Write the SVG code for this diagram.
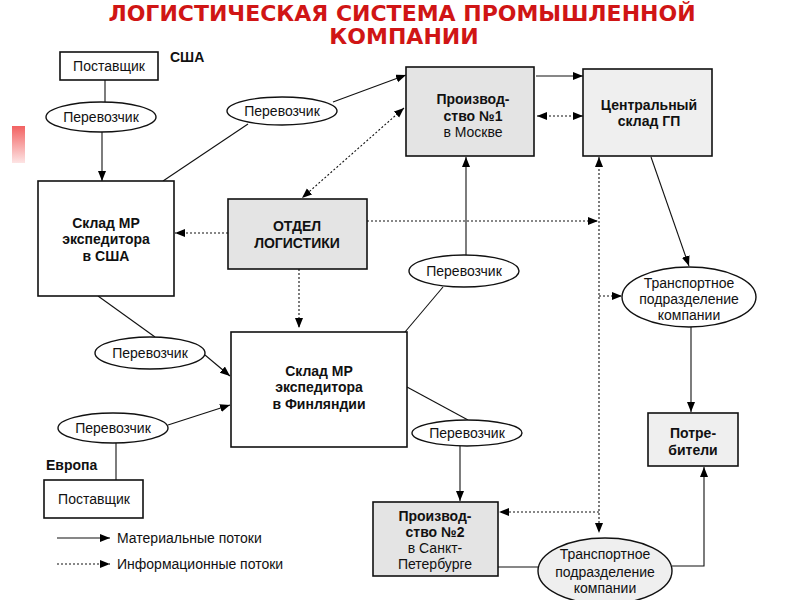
<svg xmlns="http://www.w3.org/2000/svg" width="800" height="600" viewBox="0 0 800 600">
<defs>
<marker id="ah" markerUnits="userSpaceOnUse" markerWidth="11" markerHeight="9" refX="10" refY="4" orient="auto-start-reverse">
<path d="M0,0 L10,4 L0,8 z" fill="#000"/>
</marker>
<linearGradient id="redbar" x1="0" y1="0" x2="0" y2="1">
<stop offset="0" stop-color="#f26262"/>
<stop offset="1" stop-color="#fde4e4"/>
</linearGradient>
</defs>
<style>
.title{font-family:"DejaVu Sans",sans-serif;font-weight:bold;font-size:22px;fill:#d01515;text-anchor:middle}
.t{font-family:"Liberation Sans",Arial,sans-serif;font-size:14px;fill:#111;text-anchor:middle}
.b{font-weight:bold}
.l{text-anchor:start}
.box{fill:#fff;stroke:#111;stroke-width:1.6}
.grey{fill:#e4e4e4;stroke:#111;stroke-width:1.6}
.lgrey{fill:#efefef;stroke:#111;stroke-width:1.6}
.ell{fill:#fff;stroke:#111;stroke-width:1.4}
.mat{fill:none;stroke:#111;stroke-width:1.1}
.info{fill:none;stroke:#111;stroke-width:1.1;stroke-dasharray:2,2}
</style>
<rect width="800" height="600" fill="#fff"/>
<rect x="12" y="126" width="13" height="37" fill="url(#redbar)"/>
<text class="title" x="402" y="21">ЛОГИСТИЧЕСКАЯ СИСТЕМА ПРОМЫШЛЕННОЙ</text>
<text class="title" x="404" y="44">КОМПАНИИ</text>

<g id="connectors">
<line class="mat" x1="105" y1="80" x2="105" y2="102"/>
<line class="mat" x1="102" y1="132" x2="102" y2="181" marker-end="url(#ah)"/>
<line class="mat" x1="163" y1="181" x2="248" y2="124"/>
<line class="mat" x1="333" y1="102" x2="406" y2="75" marker-end="url(#ah)"/>
<line class="mat" x1="536" y1="76" x2="583" y2="76" marker-end="url(#ah)"/>
<line class="mat" x1="466" y1="255" x2="466" y2="157" marker-end="url(#ah)"/>
<line class="mat" x1="443" y1="287" x2="405" y2="332"/>
<line class="mat" x1="98" y1="296" x2="155" y2="337"/>
<line class="mat" x1="205" y1="355" x2="230" y2="376" marker-end="url(#ah)"/>
<line class="mat" x1="168" y1="425" x2="230" y2="405" marker-end="url(#ah)"/>
<line class="mat" x1="116" y1="443" x2="116" y2="480"/>
<line class="mat" x1="407" y1="387" x2="468" y2="420"/>
<line class="mat" x1="460" y1="446" x2="460" y2="501" marker-end="url(#ah)"/>
<line class="mat" x1="498" y1="567" x2="538" y2="567"/>
<polyline class="mat" points="672,566 704,566 704,467" marker-end="url(#ah)"/>
<line class="mat" x1="651" y1="157" x2="689" y2="266" marker-end="url(#ah)"/>
<line class="mat" x1="691" y1="327" x2="691" y2="412" marker-end="url(#ah)"/>
<line class="info" x1="404" y1="108" x2="302" y2="198" marker-start="url(#ah)" marker-end="url(#ah)"/>
<line class="info" x1="537" y1="116" x2="583" y2="116" marker-start="url(#ah)" marker-end="url(#ah)"/>
<line class="info" x1="228" y1="233" x2="175" y2="233" marker-end="url(#ah)"/>
<line class="info" x1="367" y1="221" x2="598" y2="221" marker-end="url(#ah)"/>
<line class="info" x1="599" y1="157" x2="599" y2="533" marker-start="url(#ah)" marker-end="url(#ah)"/>
<line class="info" x1="599" y1="296" x2="622" y2="296" marker-end="url(#ah)"/>
<line class="info" x1="599" y1="512" x2="499" y2="512" marker-end="url(#ah)"/>
<line class="info" x1="299" y1="269" x2="299" y2="328" marker-end="url(#ah)"/>
</g>

<g id="supplier-usa">
<rect class="box" x="60" y="52" width="98" height="28"/>
<text class="t" x="109" y="71">Поставщик</text>
</g>
<g id="label-usa"><text class="t b l" x="170" y="62">США</text></g>
<g id="carrier-1">
<ellipse class="ell" cx="101" cy="117" rx="55" ry="15"/>
<text class="t" x="101" y="122">Перевозчик</text>
</g>
<g id="carrier-2">
<ellipse class="ell" cx="282" cy="111" rx="55" ry="14"/>
<text class="t" x="282" y="116">Перевозчик</text>
</g>
<g id="warehouse-usa">
<rect class="box" x="38" y="181" width="136" height="115"/>
<text class="t b" x="106" y="228">Склад МР</text>
<text class="t b" x="106" y="244">экспедитора</text>
<text class="t b" x="106" y="261">в США</text>
</g>
<g id="production-1">
<rect class="grey" x="406" y="67" width="128" height="89"/>
<text class="t b" x="473" y="104">Производ-</text>
<text class="t b" x="473" y="121">ство №1</text>
<text class="t" x="473" y="137">в Москве</text>
</g>
<g id="central-warehouse">
<rect class="lgrey" x="583" y="69" width="129" height="87"/>
<text class="t b" x="649" y="110">Центральный</text>
<text class="t b" x="649" y="126">склад ГП</text>
</g>
<g id="logistics-dept">
<rect class="grey" x="228" y="199" width="139" height="70"/>
<text class="t b" x="297" y="231">ОТДЕЛ</text>
<text class="t b" x="297" y="248">ЛОГИСТИКИ</text>
</g>
<g id="carrier-3">
<ellipse class="ell" cx="464" cy="271" rx="55" ry="16"/>
<text class="t" x="464" y="276">Перевозчик</text>
</g>
<g id="transport-1">
<ellipse class="ell" cx="689" cy="297" rx="67" ry="30"/>
<text class="t" x="689" y="288">Транспортное</text>
<text class="t" x="689" y="304">подразделение</text>
<text class="t" x="689" y="320">компании</text>
</g>
<g id="carrier-4">
<ellipse class="ell" cx="150" cy="353" rx="55" ry="16"/>
<text class="t" x="150" y="358">Перевозчик</text>
</g>
<g id="warehouse-finland">
<rect class="box" x="231" y="332" width="176" height="115"/>
<text class="t b" x="319" y="376">Склад МР</text>
<text class="t b" x="319" y="392">экспедитора</text>
<text class="t b" x="319" y="409">в Финляндии</text>
</g>
<g id="carrier-5">
<ellipse class="ell" cx="113" cy="428" rx="55" ry="15"/>
<text class="t" x="113" y="433">Перевозчик</text>
</g>
<g id="label-europe"><text class="t b l" x="46" y="470">Европа</text></g>
<g id="supplier-europe">
<rect class="box" x="44" y="480" width="99" height="38"/>
<text class="t" x="94" y="504">Поставщик</text>
</g>
<g id="carrier-6">
<ellipse class="ell" cx="467" cy="433" rx="55" ry="13"/>
<text class="t" x="467" y="438">Перевозчик</text>
</g>
<g id="consumers">
<rect class="lgrey" x="648" y="413" width="90" height="53"/>
<text class="t b" x="693" y="438">Потре-</text>
<text class="t b" x="693" y="455">бители</text>
</g>
<g id="production-2">
<rect class="grey" x="373" y="502" width="125" height="74"/>
<text class="t b" x="435" y="521">Производ-</text>
<text class="t b" x="435" y="537">ство №2</text>
<text class="t" x="435" y="553">в Санкт-</text>
<text class="t" x="435" y="569">Петербурге</text>
</g>
<g id="transport-2">
<ellipse class="lgrey" cx="605" cy="571" rx="67" ry="33" style="stroke-width:1.4"/>
<text class="t" x="605" y="559">Транспортное</text>
<text class="t" x="605" y="577">подразделение</text>
<text class="t" x="605" y="593">компании</text>
</g>
<g id="legend">
<line class="mat" x1="57" y1="538" x2="110" y2="538" marker-end="url(#ah)"/>
<text class="t l" x="117" y="543">Материальные потоки</text>
<line class="info" x1="57" y1="564" x2="110" y2="564" marker-end="url(#ah)"/>
<text class="t l" x="117" y="569">Информационные потоки</text>
</g>
</svg>
